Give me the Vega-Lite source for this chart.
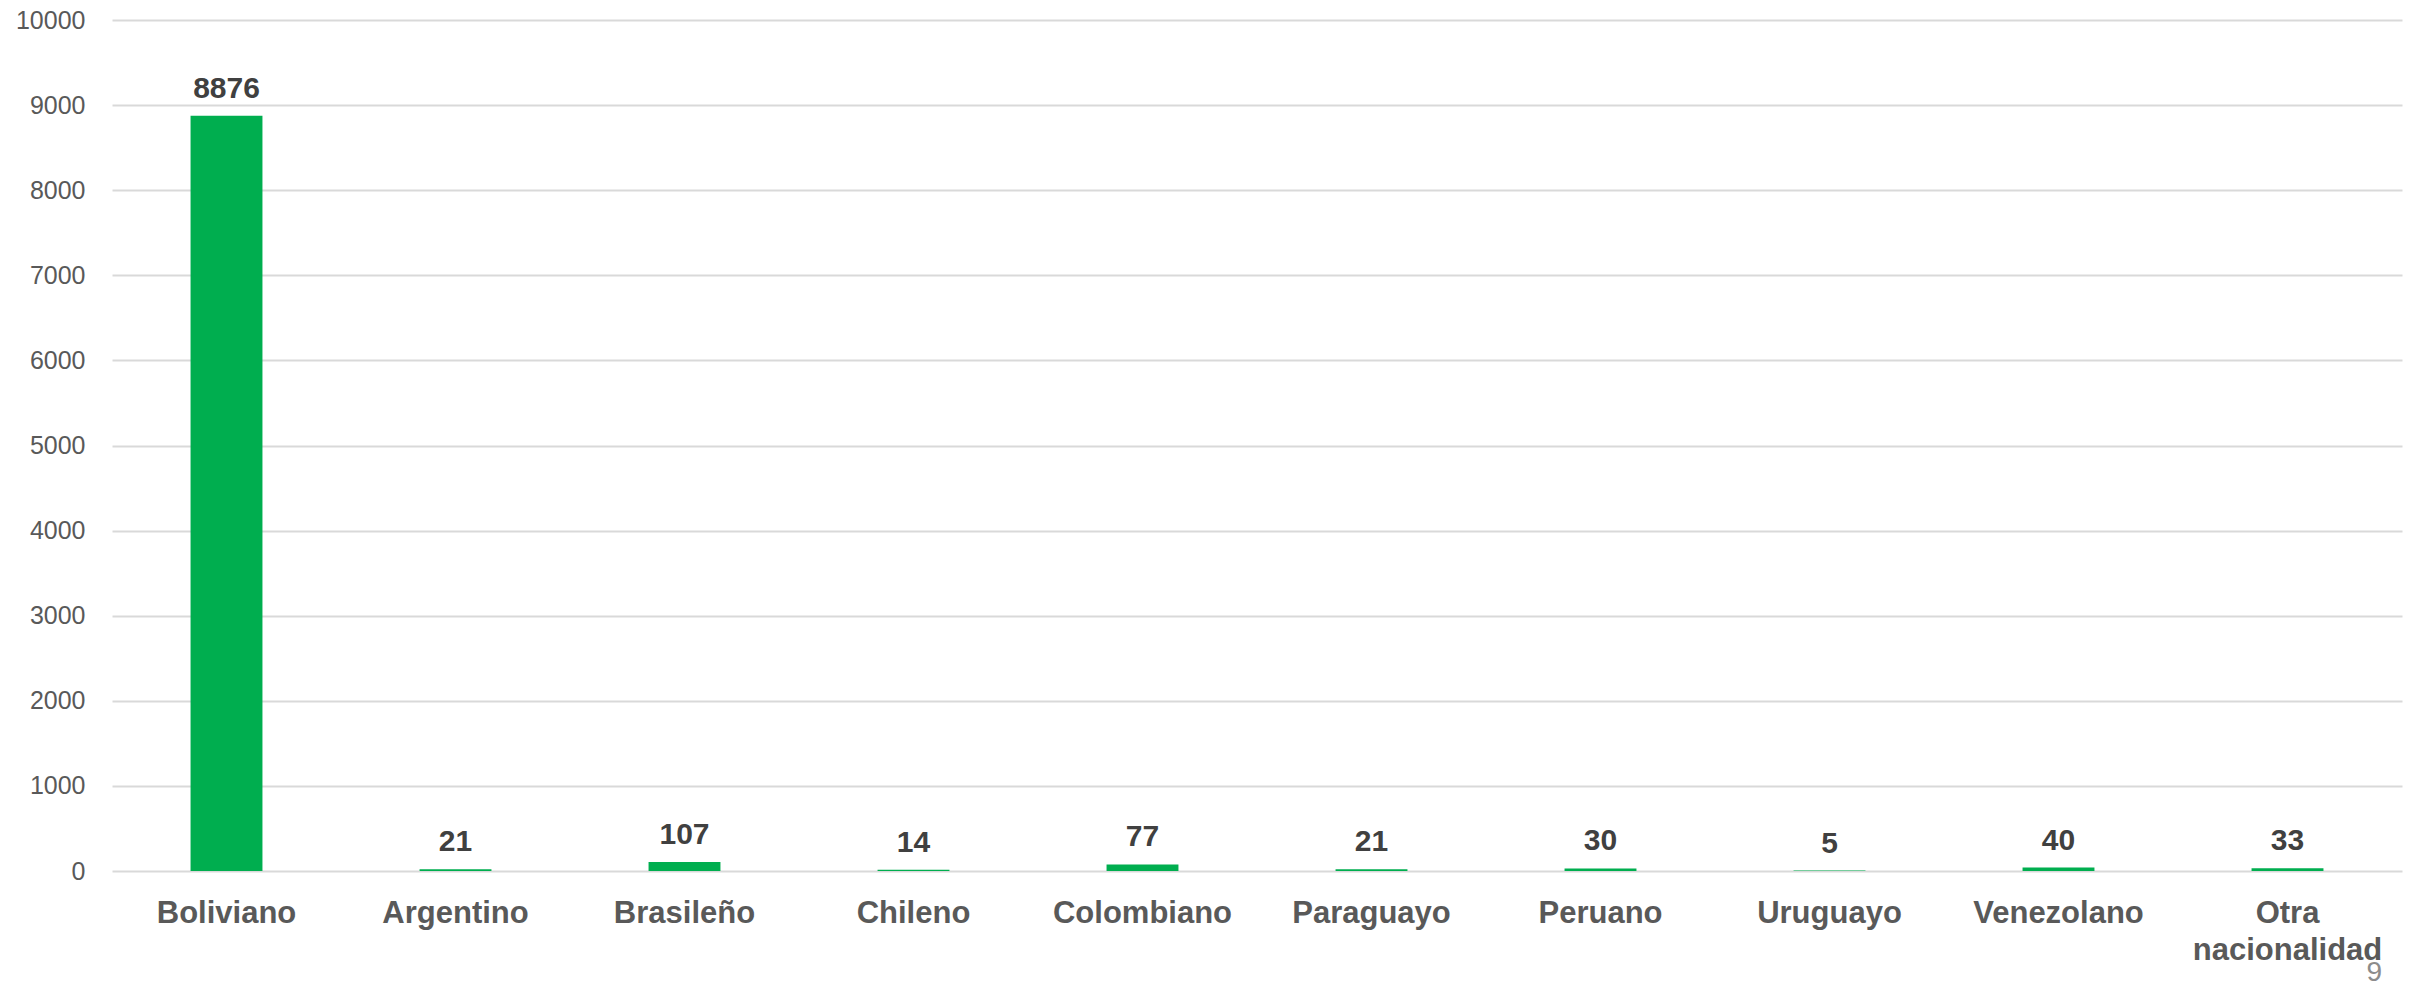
{
  "$schema": "https://vega.github.io/schema/vega-lite/v6.json",
  "width": 2290,
  "height": 851,
  "autosize": {"type": "none"},
  "padding": {"left": 112, "top": 20, "right": 16, "bottom": 113},
  "background": "white",
  "title": {"text": "9", "orient": "bottom", "anchor": "end", "font": "Liberation Sans", "fontSize": 28, "fontWeight": "normal", "color": "#8c8c8c", "offset": -6, "dx": -20},
  "data": {
    "values": [
      {"nacionalidad": "Boliviano", "cantidad": 8876},
      {"nacionalidad": "Argentino", "cantidad": 21},
      {"nacionalidad": "Brasileño", "cantidad": 107},
      {"nacionalidad": "Chileno", "cantidad": 14},
      {"nacionalidad": "Colombiano", "cantidad": 77},
      {"nacionalidad": "Paraguayo", "cantidad": 21},
      {"nacionalidad": "Peruano", "cantidad": 30},
      {"nacionalidad": "Uruguayo", "cantidad": 5},
      {"nacionalidad": "Venezolano", "cantidad": 40},
      {"nacionalidad": "Otra nacionalidad", "cantidad": 33}
    ]
  },
  "encoding": {
    "x": {
      "field": "nacionalidad",
      "type": "nominal",
      "sort": null,
      "scale": {"paddingInner": 0.686, "paddingOuter": 0.343},
      "axis": {
        "title": null,
        "labelAngle": 0,
        "labelFont": "Liberation Sans",
        "labelFontSize": 31,
        "labelFontWeight": "bold",
        "labelColor": "#595959",
        "labelPadding": 27,
        "labelLineHeight": 37,
        "labelLimit": 0,
        "labelExpr": "split(datum.value, ' ')",
        "ticks": false,
        "domain": false,
        "grid": false
      }
    },
    "y": {
      "field": "cantidad",
      "type": "quantitative",
      "scale": {"domain": [0, 10000], "nice": false},
      "axis": {
        "title": null,
        "values": [0, 1000, 2000, 3000, 4000, 5000, 6000, 7000, 8000, 9000, 10000],
        "format": "d",
        "labelFont": "Liberation Sans",
        "labelFontSize": 25,
        "labelColor": "#595959",
        "labelPadding": 27,
        "ticks": false,
        "domain": false,
        "grid": true,
        "gridColor": "#d9d9d9",
        "gridWidth": 2
      }
    }
  },
  "layer": [
    {"mark": {"type": "bar", "color": "#00ae4f"}},
    {
      "mark": {"type": "text", "dy": -18, "baseline": "alphabetic", "font": "Liberation Sans", "fontSize": 30, "fontWeight": "bold", "color": "#404040"},
      "encoding": {"text": {"field": "cantidad", "type": "quantitative", "format": "d"}}
    }
  ],
  "config": {"view": {"stroke": null}}
}
